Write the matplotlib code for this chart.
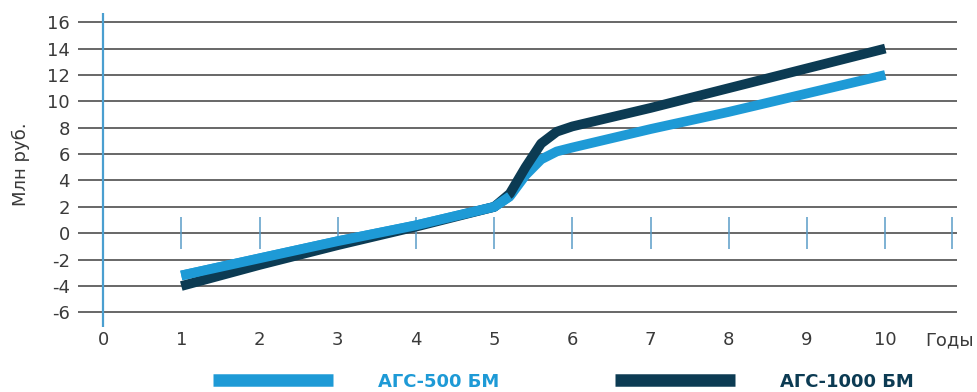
import matplotlib
matplotlib.use("Agg")
import matplotlib.pyplot as plt

# ---------------- DATA ----------------
years = [1, 2, 3, 4, 5, 5.2, 5.4, 5.6, 5.8, 6, 7, 8, 9, 10]
ags500 = [-3.2, -1.9, -0.6, 0.6, 2.0, 2.8, 4.4, 5.6, 6.2, 6.5, 7.9, 9.2, 10.6, 12.0]
ags1000 = [-4.0, -2.4, -0.9, 0.5, 2.0, 3.0, 5.0, 6.8, 7.7, 8.1, 9.5, 11.0, 12.5, 14.0]

series_names = ["АГС-500 БМ", "АГС-1000 БМ"]
series_colors = ["#1e9ad6", "#0c3b53"]

x_ticks = list(range(0, 11))
y_ticks = list(range(-6, 17, 2))
axis_marks = [1, 2, 3, 4, 5, 6, 7, 8, 9, 10, 10.85]

plt.rcParams["font.family"] = ["DejaVu Sans"]
plt.rcParams["axes.unicode_minus"] = False

fig = plt.figure(figsize=(9.78, 3.92), dpi=100)
ax = fig.add_axes([0.0798, 0.166, 0.899, 0.801])
ax.set_xlim(-0.32, 10.92)
ax.set_ylim(-7.1, 16.7)

# horizontal grid
for y in y_ticks:
    ax.axhline(y, color="#5c5c5c", lw=1.3, zorder=1)

# blue vertical axis at x=0 and small marks on the zero line
ax.axvline(0, color="#4a9fd0", lw=1.6, zorder=2)
ax.vlines(axis_marks, -1.2, 1.2, color="#5a9cc8", lw=1.1, zorder=2)

ax.plot(years, ags500, color=series_colors[0], lw=7, solid_capstyle="butt",
        solid_joinstyle="round", label=series_names[0], zorder=3)
ax.plot(years, ags1000, color=series_colors[1], lw=7, solid_capstyle="butt",
        solid_joinstyle="round", label=series_names[1], zorder=4)
# light line stays on top until the curves split
ax.plot(years[:6], ags500[:6], color=series_colors[0], lw=7,
        solid_capstyle="butt", solid_joinstyle="round", zorder=5)

ax.set_xticks(x_ticks)
ax.set_yticks(y_ticks)
ax.tick_params(axis="x", length=0, pad=3, labelsize=13, labelcolor="#3a3a3a")
ax.tick_params(axis="y", length=0, pad=6, labelsize=13, labelcolor="#3a3a3a")
for s in ax.spines.values():
    s.set_visible(False)

fig.text(0.946, 0.133, "Годы", fontsize=13, color="#3a3a3a", va="center", ha="left")
fig.text(0.021, 0.58, "Млн руб.", fontsize=13, color="#3a3a3a", rotation=90,
         va="center", ha="center")

leg = fig.legend(loc="center", bbox_to_anchor=(0.576, 0.026), ncol=2,
                 frameon=False, handlelength=6.65, handletextpad=2.5,
                 columnspacing=6.4, prop={"size": 13, "weight": "bold"})
for txt, c in zip(leg.get_texts(), series_colors):
    txt.set_color(c)
for h in leg.legend_handles:
    h.set_linewidth(9)

fig.savefig("out.png", dpi=100)
